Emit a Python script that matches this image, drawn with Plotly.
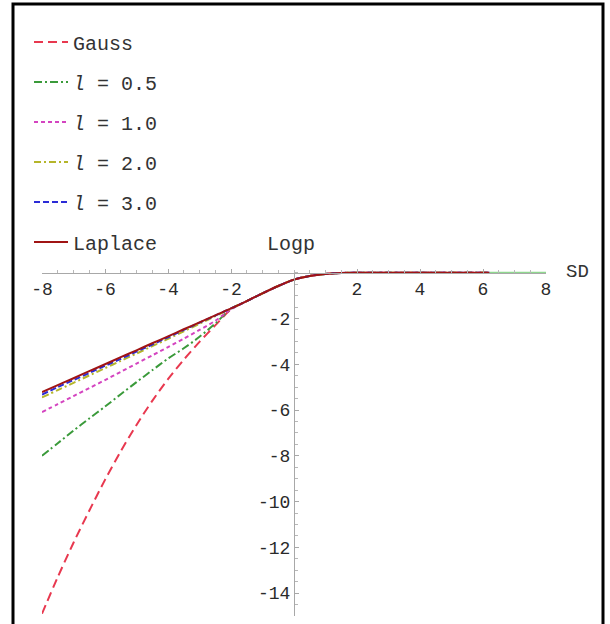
import plotly.graph_objects as go

# ---- data ----
sd = [-8, -7.5, -7, -6.5, -6, -5.5, -5, -4.5, -4, -3.5, -3, -2.5, -2,
      -1.5, -1, -0.5, 0, 0.5, 1, 1.5, 2, 4, 6.2]

center = [-1.24, -0.9, -0.58, -0.3, -0.14, -0.05, -0.01, 0, 0, 0]

gauss = [-14.9, -13.3, -11.8, -10.4, -9.05, -7.8, -6.65, -5.6, -4.65, -3.8,
         -3.02, -2.3, -1.6] + center
l05 = [-8.0, -7.45, -6.9, -6.37, -5.85, -5.31, -4.78, -4.26, -3.75, -3.3,
       -2.8, -2.22, -1.58] + center
l10 = [-6.09, -5.74, -5.39, -5.04, -4.69, -4.33, -3.97, -3.61, -3.25, -2.88,
       -2.5, -2.1, -1.6] + center
l20 = [-5.45, -5.13, -4.81, -4.49, -4.17, -3.85, -3.53, -3.21, -2.89, -2.56,
       -2.23, -1.9, -1.57] + center
l30 = [-5.32, -5.0, -4.69, -4.38, -4.07, -3.76, -3.45, -3.14, -2.82, -2.5,
       -2.18, -1.87, -1.56] + center
laplace = [-5.22, -4.91, -4.61, -4.3, -4.0, -3.69, -3.39, -3.08, -2.78, -2.47,
           -2.17, -1.86, -1.56] + center

tail_x = [6.2, 8]
tail_y = [0, 0]

names = ["Gauss", "<i>l</i> = 0.5", "<i>l</i> = 1.0", "<i>l</i> = 2.0",
         "<i>l</i> = 3.0", "Laplace"]
series = [gauss, l05, l10, l20, l30, laplace]
colors = ["#e8384f", "#3a9a3a", "#d444c0", "#b5b52a", "#2b2bd6", "#a01414"]
dashes = ["9px,5px", "8px,3px,2px,3px", "4px,3px", "7px,3px,2px,3px",
          "6px,3px", "solid"]

x_ticks = [-8, -6, -4, -2, 2, 4, 6, 8]
x_labels = ["-8", "-6", "-4", "-2", "2", "4", "6", "8"]
y_ticks = [-2, -4, -6, -8, -10, -12, -14]
y_labels = ["-2", "-4", "-6", "-8", "-10", "-12", "-14"]

FONT = "Courier New, Liberation Mono, monospace"

fig = go.Figure()
fig.add_trace(go.Scatter(x=tail_x, y=tail_y, mode="lines", showlegend=False,
                         line=dict(color="#8fd88f", width=2), hoverinfo="skip"))
for i, (nm, ys, c, d) in enumerate(zip(names, series, colors, dashes)):
    fig.add_trace(go.Scatter(
        x=sd, y=ys, mode="lines", name=nm, legendgroup=f"g{i}",
        line=dict(color=c, width=2, dash=d, shape="spline", smoothing=0.8)))

W, H = 610, 624
L, R = 42, 546              # x = -8 .. 8 in px
YT, YB = 0.12, -15
AX0 = 273                   # y = 0 in px
B_PX = 616                  # y = -15 in px
T_PX = AX0 - YT * (B_PX - AX0) / 15.0
ph = B_PX - T_PX
pw = R - L


def px_x(p):   # pixel -> paper x
    return (p - L) / pw


def px_y(p):   # pixel -> paper y
    return (B_PX - p) / ph


axis_common = dict(showline=True, linecolor="#a8a8a8", linewidth=1,
                   showgrid=False, zeroline=False, tickmode="array",
                   ticks="inside", ticklen=4, tickcolor="#a8a8a8",
                   minor=dict(tickmode="linear", tick0=0, dtick=0.5,
                              ticks="inside", ticklen=3, tickcolor="#b8b8b8",
                              showgrid=False),
                   tickfont=dict(family=FONT, size=18, color="#2a2a2a"))

fig.update_layout(
    width=W, height=H,
    margin=dict(l=L, r=W - R, t=T_PX, b=H - B_PX, pad=0),
    paper_bgcolor="white", plot_bgcolor="white",
    font=dict(family=FONT, size=18, color="#333"),
    showlegend=True,
    legend=dict(x=px_x(29), y=px_y(23), xanchor="left", yanchor="top",
                traceorder="grouped", tracegroupgap=11,
                font=dict(family=FONT, size=20, color="#333"),
                bgcolor="rgba(0,0,0,0)", itemwidth=34),
    xaxis=dict(range=[-8, 8], anchor="free", position=(0 - YB) / (YT - YB),
               tickvals=x_ticks, ticktext=x_labels, **axis_common),
    yaxis=dict(range=[YB, YT], anchor="free", position=0.5,
               tickvals=y_ticks, ticktext=y_labels, **axis_common),
    annotations=[
        dict(text="Logp", xref="paper", yref="paper", x=px_x(291), y=px_y(245),
             xanchor="center", yanchor="middle", showarrow=False,
             font=dict(family=FONT, size=20, color="#333")),
        dict(text="SD", xref="paper", yref="paper", x=px_x(577), y=px_y(272),
             xanchor="center", yanchor="middle", showarrow=False,
             font=dict(family=FONT, size=19, color="#333")),
    ],
    shapes=[dict(type="rect", xref="paper", yref="paper",
                 x0=px_x(13), x1=px_x(603), y0=px_y(640), y1=px_y(4.5),
                 line=dict(color="black", width=3), layer="above")],
)

fig.write_html("out.html",
               config={"displayModeBar": False},
               post_script="document.body.style.margin='0';"
                           "document.body.style.overflow='hidden';")
